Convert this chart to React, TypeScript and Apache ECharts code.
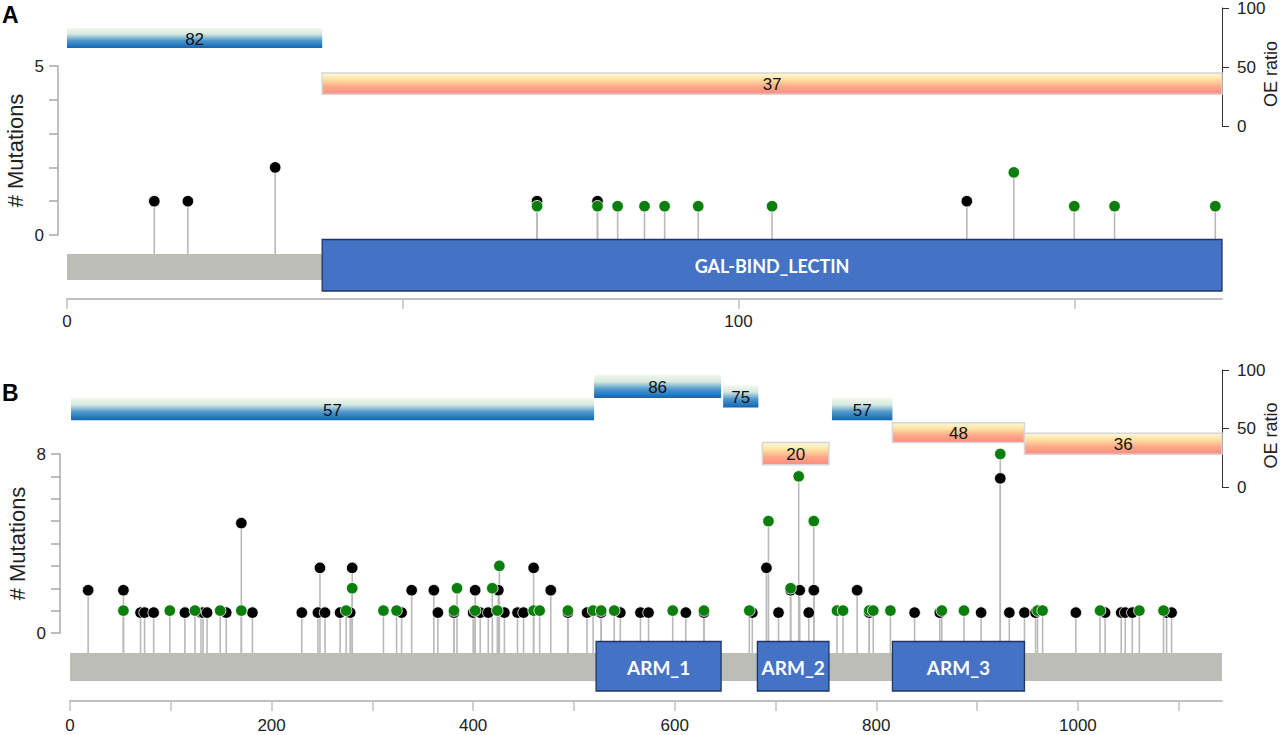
import React, { useEffect, useRef } from "react";
import * as echarts from "echarts";

const FONT = '"Liberation Sans", Arial, sans-serif';
const DOMAIN_FONT = 'Lato, "Open Sans", sans-serif';

// ---------- Panel A ----------
const lengthA = 172;
const aXTicks = [0, 50, 100, 150];
const aXLabels = [0, 100];
const aYTicks = [0, 1, 2, 3, 4, 5];
const aYLabels = [0, 5];
const aBlackPos = [13, 18, 31, 70, 79, 134];
const aBlackCount = [1, 1, 2, 1, 1, 1];
const aGreenPos = [70, 79, 82, 86, 89, 94, 105, 141, 150, 156, 171];
const aGreenCount = [1, 1, 1, 1, 1, 1, 1, 2, 1, 1, 1];
const aDomainStart = [38];
const aDomainEnd = [172];
const aDomainName = ["GAL-BIND_LECTIN"];
const aOeStart = [0, 38];
const aOeEnd = [38, 172];
const aOeValue = [82, 37];
const aOeLow = [66, 27];
const aOeHigh = [83, 45];

// ---------- Panel B ----------
const lengthB = 1143;
const bXTicks = [0, 100, 200, 300, 400, 500, 600, 700, 800, 900, 1000, 1100];
const bXLabels = [0, 200, 400, 600, 800, 1000];
const bYTicks = [0, 1, 2, 3, 4, 5, 6, 7, 8];
const bYLabels = [0, 8];
const bBlackPos = [18, 53, 70, 74, 83, 114, 130, 132, 136, 155, 170, 181, 230, 246, 248, 253, 268, 278, 280, 329, 339, 361, 365, 381, 400, 402, 407, 415, 425, 431, 444, 450, 460, 477, 494, 513, 527, 546, 566, 574, 611, 629, 677, 691, 703, 715, 724, 733, 738, 781, 793, 838, 863, 904, 923, 932, 947, 958, 998, 1027, 1043, 1047, 1054, 1088, 1093];
const bBlackCount = [2, 2, 1, 1, 1, 1, 1, 1, 1, 1, 5, 1, 1, 1, 3, 1, 1, 1, 3, 1, 2, 2, 1, 1, 1, 2, 1, 1, 2, 1, 1, 1, 3, 2, 1, 1, 1, 1, 1, 1, 1, 1, 1, 3, 1, 2, 2, 1, 2, 2, 1, 1, 1, 1, 7, 1, 1, 1, 1, 1, 1, 1, 1, 1, 1];
const bGreenPos = [53, 99, 124, 149, 170, 274, 280, 311, 324, 381, 384, 402, 419, 424, 426, 460, 466, 494, 519, 527, 540, 598, 629, 674, 693, 715, 723, 738, 761, 767, 793, 797, 814, 865, 887, 923, 960, 965, 1022, 1061, 1085];
const bGreenCount = [1, 1, 1, 1, 1, 1, 2, 1, 1, 1, 2, 1, 2, 1, 3, 1, 1, 1, 1, 1, 1, 1, 1, 1, 5, 2, 7, 5, 1, 1, 1, 1, 1, 1, 1, 8, 1, 1, 1, 1, 1];
const bDomainStart = [522, 682, 816];
const bDomainEnd = [646, 753, 947];
const bDomainName = ["ARM_1", "ARM_2", "ARM_3"];
const bOeStart = [1, 520, 648, 687, 756, 816, 947];
const bOeEnd = [520, 646, 683, 753, 816, 947, 1143];
const bOeValue = [57, 86, 75, 20, 57, 48, 36];
const bOeLow = [57, 76, 68, 19, 57, 38, 28];
const bOeHigh = [76, 96, 87, 38, 76, 55, 46];

const BLUE_STOPS = [
  { offset: 0, color: "#f3f8ec" },
  { offset: 0.3, color: "#d6e9df" },
  { offset: 0.62, color: "#4f98cc" },
  { offset: 1, color: "#1066b2" },
];
const RED_STOPS = [
  { offset: 0, color: "#fffadf" },
  { offset: 0.3, color: "#ffe3a3" },
  { offset: 0.65, color: "#ffa88a" },
  { offset: 1, color: "#ff8b80" },
];

function pairs(pos: number[], cnt: number[]) {
  return pos.map((p, i) => [p, cnt[i]]);
}

function bandRender(params: any, api: any) {
  const p1 = api.coord([api.value(0), api.value(3)]);
  const p2 = api.coord([api.value(1), api.value(2)]);
  const v = api.value(4);
  const red = v < 50;
  const x = p1[0];
  const y = p1[1];
  const w = p2[0] - p1[0];
  const h = p2[1] - p1[1];
  return {
    type: "group",
    children: [
      {
        type: "rect",
        shape: { x, y, width: w, height: h },
        style: {
          fill: new echarts.graphic.LinearGradient(0, 0, 0, 1, red ? RED_STOPS : BLUE_STOPS),
          stroke: red ? "#d6d6d6" : null,
          lineWidth: red ? 1.5 : 0,
        },
      },
      {
        type: "text",
        x: x + w / 2,
        y: y + h / 2 + 1,
        style: {
          text: String(v),
          fill: "#111",
          fontSize: 17,
          fontFamily: FONT,
          align: "center",
          verticalAlign: "middle",
        },
      },
    ],
  };
}

function stemRender(bottomOffset: number) {
  return (params: any, api: any) => {
    const top = api.coord([api.value(0), api.value(1)]);
    const base = api.coord([api.value(0), 0]);
    return {
      type: "line",
      shape: { x1: top[0], y1: top[1], x2: base[0], y2: base[1] + bottomOffset },
      style: { stroke: "#b9b9b9", lineWidth: 1.6 },
    };
  };
}

function backboneRender(t: number, b: number) {
  return (params: any, api: any) => {
    const s = api.coord([api.value(0), 0]);
    const e = api.coord([api.value(1), 0]);
    return {
      type: "rect",
      shape: { x: s[0], y: s[1] + t, width: e[0] - s[0], height: b - t },
      style: { fill: "#bdbdb7" },
    };
  };
}

function domainRender(t: number, b: number, names: string[], fontSize: number) {
  return (params: any, api: any) => {
    const s = api.coord([api.value(0), 0]);
    const e = api.coord([api.value(1), 0]);
    const y = s[1] + t;
    const h = b - t;
    return {
      type: "group",
      children: [
        {
          type: "rect",
          shape: { x: s[0], y, width: e[0] - s[0], height: h },
          style: { fill: "#4472c4", stroke: "#203564", lineWidth: 1.3 },
        },
        {
          type: "text",
          x: (s[0] + e[0]) / 2,
          y: y + h / 2 + 1,
          style: {
            text: names[params.dataIndex],
            fill: "#ffffff",
            fontSize,
            fontWeight: "bold",
            fontFamily: DOMAIN_FONT,
            align: "center",
            verticalAlign: "middle",
          },
        },
      ],
    };
  };
}

const plain = (v: number) => String(v);

function mainXAxis(grid: number, max: number, offset: number, ticks: number[], labels: number[], margin: number) {
  return {
    gridIndex: grid,
    type: "value",
    min: 0,
    max,
    position: "bottom",
    offset,
    axisLine: { show: true, onZero: false, lineStyle: { color: "#c0c0c0", width: 2 } },
    axisTick: { show: true, length: 10, customValues: ticks, lineStyle: { color: "#c0c0c0", width: 1.5 } },
    axisLabel: { customValues: labels, formatter: plain, margin, fontSize: 17, color: "#222", fontFamily: FONT },
    splitLine: { show: false },
  };
}

function hiddenXAxis(grid: number, max: number) {
  return { gridIndex: grid, type: "value", min: 0, max, show: false, splitLine: { show: false }, axisLine: { onZero: false } };
}

function mainYAxis(grid: number, max: number, ticks: number[], labels: number[], offset: number) {
  return {
    gridIndex: grid,
    type: "value",
    min: 0,
    max,
    position: "left",
    offset,
    axisLine: { show: true, onZero: false, lineStyle: { color: "#a8a8a8", width: 1.5 } },
    axisTick: { show: true, length: 9, customValues: ticks, lineStyle: { color: "#a8a8a8", width: 1.5 } },
    axisLabel: { customValues: labels, formatter: plain, margin: 14, fontSize: 17, color: "#222", fontFamily: FONT },
    splitLine: { show: false },
    name: "# Mutations",
    nameLocation: "middle",
    nameGap: 32,
    nameMoveOverlap: false,
    nameTextStyle: { fontSize: 22, color: "#222", fontFamily: FONT },
  };
}

function oeYAxis(grid: number) {
  return {
    gridIndex: grid,
    type: "value",
    min: 0,
    max: 100,
    interval: 50,
    position: "right",
    axisLine: { show: true, onZero: false, lineStyle: { color: "#333", width: 1 } },
    axisTick: { show: true, length: 7, lineStyle: { color: "#333", width: 1 } },
    axisLabel: { formatter: plain, margin: 15, fontSize: 17, color: "#222", fontFamily: FONT },
    splitLine: { show: false },
    name: "OE ratio",
    nameLocation: "middle",
    nameGap: 40,
    nameMoveOverlap: false,
    nameTextStyle: { fontSize: 18, color: "#222", fontFamily: FONT, padding: [0, 14, 0, 0] },
  };
}

function panelSeries(
  mainIdx: number,
  oeIdx: number,
  length: number,
  black: number[][],
  green: number[][],
  blackOffset: number,
  greenOffset: number,
  bb: [number, number],
  dom: [number, number],
  domains: number[][],
  names: string[],
  domFont: number,
  bands: number[][]
) {
  return [
    { type: "custom", xAxisIndex: oeIdx, yAxisIndex: oeIdx, data: bands, renderItem: bandRender, z: 1 },
    { type: "custom", xAxisIndex: mainIdx, yAxisIndex: mainIdx, data: [...black, ...green], renderItem: stemRender(bb[0]), z: 2 },
    { type: "custom", xAxisIndex: mainIdx, yAxisIndex: mainIdx, data: [[0, length]], renderItem: backboneRender(bb[0], bb[1]), z: 3 },
    { type: "custom", xAxisIndex: mainIdx, yAxisIndex: mainIdx, data: domains, renderItem: domainRender(dom[0], dom[1], names, domFont), z: 4 },
    {
      type: "scatter",
      xAxisIndex: mainIdx,
      yAxisIndex: mainIdx,
      data: black,
      symbolSize: 11.5,
      symbolOffset: [0, blackOffset],
      clip: false,
      itemStyle: { color: "#000", borderColor: "#ffffff", borderWidth: 0.8, opacity: 1 },
      z: 5,
    },
    {
      type: "scatter",
      xAxisIndex: mainIdx,
      yAxisIndex: mainIdx,
      data: green,
      symbolSize: 11.5,
      symbolOffset: [0, greenOffset],
      clip: false,
      itemStyle: { color: "#0b7f0b", borderColor: "#ffffff", borderWidth: 0.8, opacity: 1 },
      z: 6,
    },
  ];
}

export default function App() {
  const ref = useRef<HTMLDivElement>(null);
  useEffect(() => {
    if (!ref.current) return;
    const chart = echarts.init(ref.current, null, { renderer: "svg" });
    const bandsA = aOeStart.map((s, i) => [s, aOeEnd[i], aOeLow[i], aOeHigh[i], aOeValue[i]]);
    const bandsB = bOeStart.map((s, i) => [s, bOeEnd[i], bOeLow[i], bOeHigh[i], bOeValue[i]]);
    const domA = aDomainStart.map((s, i) => [s, aDomainEnd[i]]);
    const domB = bDomainStart.map((s, i) => [s, bDomainEnd[i]]);
    const g = { outerBoundsMode: "none", containLabel: false };
    const option: any = {
      animation: false,
      backgroundColor: "#ffffff",
      textStyle: { fontFamily: FONT },
      grid: [
        { ...g, left: 67, right: 58, top: 66, height: 169 },
        { ...g, left: 67, right: 58, top: 8, height: 118 },
        { ...g, left: 70, right: 58, top: 454, height: 179 },
        { ...g, left: 70, right: 58, top: 370, height: 117 },
      ],
      xAxis: [
        mainXAxis(0, lengthA, 64, aXTicks, aXLabels, 14),
        hiddenXAxis(1, lengthA),
        mainXAxis(2, lengthB, 68, bXTicks, bXLabels, 16),
        hiddenXAxis(3, lengthB),
      ],
      yAxis: [
        mainYAxis(0, 5, aYTicks, aYLabels, 9),
        oeYAxis(1),
        mainYAxis(2, 8, bYTicks, bYLabels, 10),
        oeYAxis(3),
      ],
      graphic: [
        { type: "text", left: 2, top: 3, style: { text: "A", fontSize: 23, fontWeight: "bold", fontFamily: FONT, fill: "#000" } },
        { type: "text", left: 2, top: 381, style: { text: "B", fontSize: 23, fontWeight: "bold", fontFamily: FONT, fill: "#000" } },
      ],
      series: [
        ...panelSeries(0, 1, lengthA, pairs(aBlackPos, aBlackCount), pairs(aGreenPos, aGreenCount), 0, 5, [19, 45], [4.5, 56], domA, aDomainName, 18, bandsA),
        ...panelSeries(2, 3, lengthB, pairs(bBlackPos, bBlackCount), pairs(bGreenPos, bGreenCount), 2, 0, [20, 48], [8.5, 58], domB, bDomainName, 19, bandsB),
      ],
    };
    chart.setOption(option);
    return () => chart.dispose();
  }, []);
  return <div ref={ref} style={{ position: "fixed", left: 0, top: 0, width: 1280, height: 735 }} />;
}
